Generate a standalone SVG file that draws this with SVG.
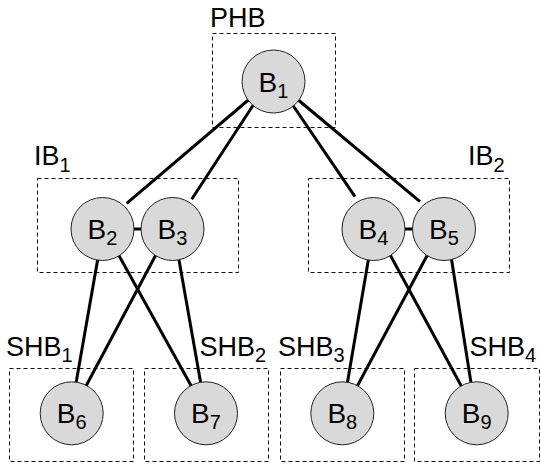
<svg xmlns="http://www.w3.org/2000/svg" width="541" height="464" viewBox="0 0 541 464">
  <style>
    .box { fill: none; stroke: #111; stroke-width: 1; stroke-dasharray: 4 3; }
    .node { fill: #d9d9d9; stroke: #222; stroke-width: 1; }
    .edge { stroke: #000; stroke-width: 3; fill: none; }
    .lbl { font-family: "Liberation Sans", Arial, sans-serif; font-size: 27px; fill: #000; }
    .nlbl { font-family: "Liberation Sans", Arial, sans-serif; font-size: 28px; fill: #000; text-anchor: middle; }
    .sub { font-size: 20px; }
  </style>

  <!-- dashed hierarchy boxes -->
  <g id="PHB">
    <rect class="box" x="212.5" y="33.5" width="123" height="94"/>
    <text class="lbl" x="210" y="27">PHB</text>
  </g>
  <g id="IB1">
    <rect class="box" x="37.5" y="178.5" width="201" height="94"/>
    <text class="lbl" x="34" y="165">IB<tspan class="sub" dy="7">1</tspan></text>
  </g>
  <g id="IB2">
    <rect class="box" x="308.5" y="178.5" width="201" height="94"/>
    <text class="lbl" x="468" y="165">IB<tspan class="sub" dy="7">2</tspan></text>
  </g>
  <g id="SHB1">
    <rect class="box" x="9.5" y="368.5" width="124" height="93"/>
    <text class="lbl" x="6" y="356">SHB<tspan class="sub" dy="6">1</tspan></text>
  </g>
  <g id="SHB2">
    <rect class="box" x="144.5" y="368.5" width="124" height="93"/>
    <text class="lbl" x="199.5" y="356">SHB<tspan class="sub" dy="6">2</tspan></text>
  </g>
  <g id="SHB3">
    <rect class="box" x="280.5" y="368.5" width="124" height="93"/>
    <text class="lbl" x="278" y="356">SHB<tspan class="sub" dy="6">3</tspan></text>
  </g>
  <g id="SHB4">
    <rect class="box" x="414.5" y="368.5" width="125" height="93"/>
    <text class="lbl" x="469.5" y="356">SHB<tspan class="sub" dy="6">4</tspan></text>
  </g>

  <!-- connectors -->
  <g id="edges">
    <line class="edge" x1="248.3" y1="100" x2="126.7" y2="203.3"/>
    <line class="edge" x1="253.3" y1="105" x2="191.7" y2="199.3"/>
    <line class="edge" x1="292.7" y1="105" x2="355" y2="196.7"/>
    <line class="edge" x1="298.3" y1="100" x2="420" y2="201.7"/>
    <line class="edge" x1="133" y1="229" x2="142" y2="229"/>
    <line class="edge" x1="404" y1="229" x2="413" y2="229"/>
    <line class="edge" x1="98.3" y1="256" x2="76" y2="383.3"/>
    <line class="edge" x1="117.7" y1="253.3" x2="191.7" y2="386.7"/>
    <line class="edge" x1="156.7" y1="253.3" x2="86" y2="386"/>
    <line class="edge" x1="178.3" y1="256" x2="200.7" y2="382.7"/>
    <line class="edge" x1="369" y1="256" x2="347.3" y2="383.3"/>
    <line class="edge" x1="389.3" y1="253.3" x2="461.7" y2="386.7"/>
    <line class="edge" x1="428.3" y1="253.3" x2="357.3" y2="386"/>
    <line class="edge" x1="451" y1="256" x2="471" y2="382.7"/>
  </g>

  <!-- nodes -->
  <g id="B1">
    <circle class="node" cx="273.5" cy="81.5" r="31.5"/>
    <text class="nlbl" x="273.5" y="91.5">B<tspan class="sub" dy="6">1</tspan></text>
  </g>
  <g id="B2">
    <circle class="node" cx="102.5" cy="229" r="31.5"/>
    <text class="nlbl" x="102.5" y="239">B<tspan class="sub" dy="6">2</tspan></text>
  </g>
  <g id="B3">
    <circle class="node" cx="172.5" cy="229" r="31.5"/>
    <text class="nlbl" x="172.5" y="239">B<tspan class="sub" dy="6">3</tspan></text>
  </g>
  <g id="B4">
    <circle class="node" cx="373.5" cy="229" r="31.5"/>
    <text class="nlbl" x="373.5" y="239">B<tspan class="sub" dy="6">4</tspan></text>
  </g>
  <g id="B5">
    <circle class="node" cx="444" cy="229" r="31.5"/>
    <text class="nlbl" x="444" y="239">B<tspan class="sub" dy="6">5</tspan></text>
  </g>
  <g id="B6">
    <circle class="node" cx="71.7" cy="413.3" r="31.5"/>
    <text class="nlbl" x="71.7" y="423.3">B<tspan class="sub" dy="6">6</tspan></text>
  </g>
  <g id="B7">
    <circle class="node" cx="206" cy="413.3" r="31.5"/>
    <text class="nlbl" x="206" y="423.3">B<tspan class="sub" dy="6">7</tspan></text>
  </g>
  <g id="B8">
    <circle class="node" cx="342.3" cy="413.3" r="31.5"/>
    <text class="nlbl" x="342.3" y="423.3">B<tspan class="sub" dy="6">8</tspan></text>
  </g>
  <g id="B9">
    <circle class="node" cx="476.7" cy="413.3" r="31.5"/>
    <text class="nlbl" x="476.7" y="423.3">B<tspan class="sub" dy="6">9</tspan></text>
  </g>
</svg>
